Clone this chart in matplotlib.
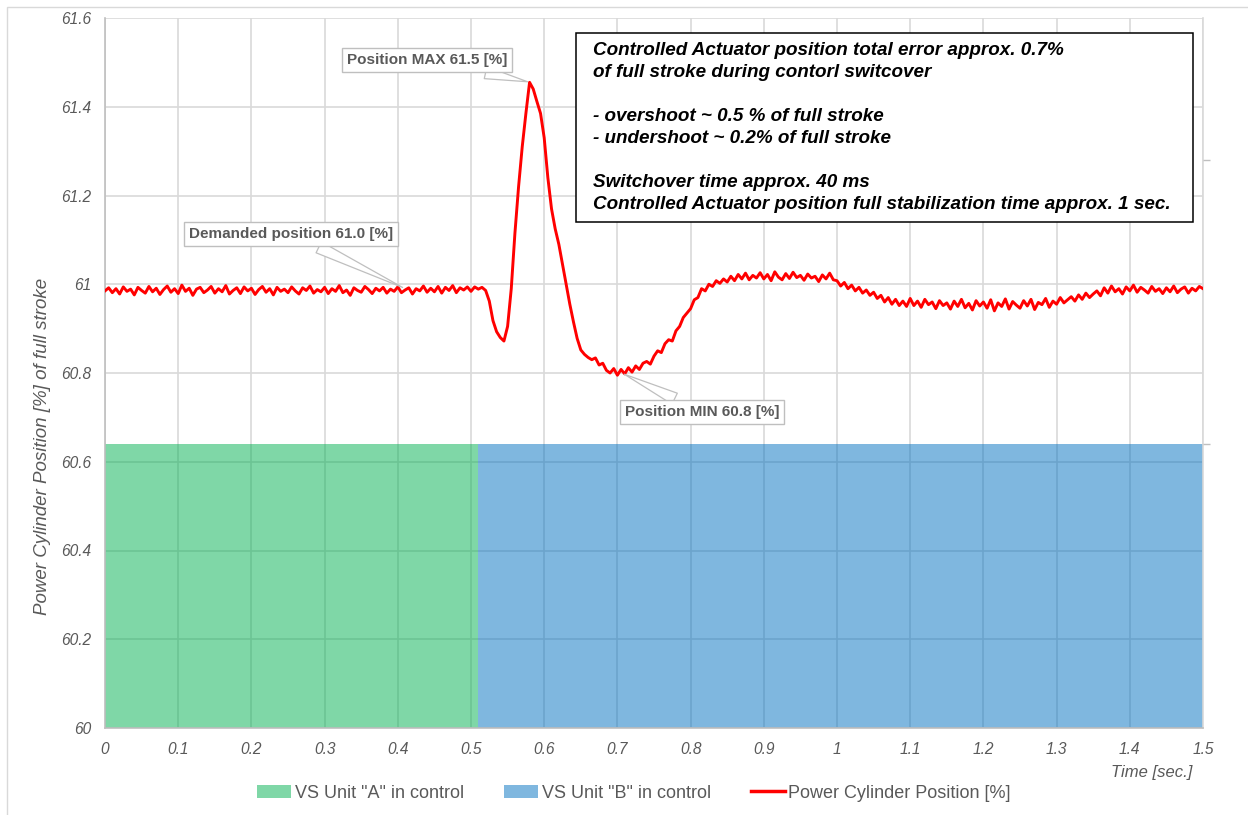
import numpy as np
import matplotlib.pyplot as plt
from matplotlib.patches import Rectangle, Patch
from matplotlib.lines import Line2D

plt.rcParams['font.family'] = ['Liberation Sans', 'DejaVu Sans']

# position samples, every 5 ms from 0 to 1.5 s
time_step = 0.005
position = [
    60.985, 60.992, 60.981, 60.990, 60.978, 60.994, 60.984, 60.989, 60.976, 60.993,
    60.986, 60.980, 60.995, 60.983, 60.991, 60.977, 60.988, 60.996, 60.982, 60.990,
    60.979, 60.998, 60.984, 60.991, 60.975, 60.989, 60.993, 60.981, 60.987, 60.995,
    60.980, 60.990, 60.983, 60.997, 60.978, 60.986, 60.992, 60.979, 60.994, 60.985,
    60.991, 60.977, 60.988, 60.995, 60.982, 60.990, 60.976, 60.993, 60.984, 60.989,
    60.981, 60.994, 60.985, 60.978, 60.992, 60.986, 60.996, 60.980, 60.988, 60.983,
    60.993, 60.979, 60.990, 60.984, 60.997, 60.981, 60.987, 60.975, 60.992, 60.986,
    60.982, 60.995, 60.988, 60.979, 60.991, 60.985, 60.993, 60.980, 60.989, 60.984,
    60.994, 60.981, 60.987, 60.992, 60.978, 60.990, 60.985, 60.996, 60.982, 60.991,
    60.983, 60.995, 60.980, 60.993, 60.986, 60.997, 60.981, 60.992, 60.987, 60.994,
    60.984, 60.994, 60.989, 60.993, 60.986, 60.962, 60.918, 60.893, 60.880, 60.872,
    60.905, 60.990, 61.115, 61.220, 61.310, 61.385, 61.455, 61.440, 61.412, 61.385,
    61.330, 61.240, 61.170, 61.125, 61.090, 61.045, 61.000, 60.955, 60.915, 60.878,
    60.852, 60.842, 60.835, 60.830, 60.834, 60.818, 60.822, 60.806, 60.800, 60.810,
    60.795, 60.808, 60.798, 60.812, 60.802, 60.816, 60.808, 60.822, 60.826, 60.820,
    60.838, 60.850, 60.846, 60.866, 60.875, 60.872, 60.895, 60.905, 60.925, 60.935,
    60.945, 60.965, 60.970, 60.990, 60.985, 61.000, 60.995, 61.008, 61.002, 61.012,
    61.005, 61.018, 61.008, 61.022, 61.012, 61.025, 61.010, 61.020, 61.014, 61.026,
    61.012, 61.022, 61.008, 61.028, 61.016, 61.010, 61.024, 61.013, 61.027, 61.015,
    61.020, 61.009, 61.023, 61.014, 61.018, 61.006, 61.021, 61.012, 61.025, 61.010,
    61.008, 60.996, 61.004, 60.990, 60.998, 60.985, 60.993, 60.980, 60.987, 60.975,
    60.982, 60.968, 60.975, 60.960, 60.970, 60.955, 60.966, 60.952, 60.962, 60.950,
    60.968, 60.952, 60.962, 60.948, 60.966, 60.954, 60.960, 60.945, 60.963, 60.952,
    60.958, 60.944, 60.962, 60.950, 60.966, 60.947, 60.957, 60.942, 60.963, 60.951,
    60.960, 60.946, 60.965, 60.940, 60.958, 60.950, 60.967, 60.944, 60.961, 60.953,
    60.946, 60.963, 60.951, 60.966, 60.943, 60.959, 60.954, 60.968, 60.948, 60.962,
    60.955, 60.970, 60.958, 60.965, 60.972, 60.962, 60.976, 60.966, 60.980, 60.970,
    60.978, 60.985, 60.974, 60.992, 60.980, 60.996, 60.983, 60.990, 60.978, 60.994,
    60.985, 60.998, 60.982, 60.993, 60.987, 60.980, 60.995, 60.984, 60.990, 60.979,
    60.992, 60.983, 60.996, 60.981, 60.989, 60.994, 60.980, 60.991, 60.985, 60.995,
    60.990,
]
time = np.arange(len(position)) * time_step

# control periods (unit, start, end) and band height
control_periods = [('VS Unit "A" in control', 0.0, 0.51),
                   ('VS Unit "B" in control', 0.51, 1.5)]
control_colors = ['#00b050', '#0070c0']
band_top = 60.64

# callouts: label, (time, value)
callouts = [
    ('Position MAX 61.5 [%]', (0.581, 61.455)),
    ('Demanded position 61.0 [%]', (0.41, 60.99)),
    ('Position MIN 60.8 [%]', (0.706, 60.80)),
]
callout_text_px = [(427, 755), (291, 581), (702, 403)]

note = ("Controlled Actuator position total error approx. 0.7%\n"
        "of full stroke during contorl switcover\n\n"
        "- overshoot ~ 0.5 % of full stroke\n"
        "- undershoot ~ 0.2% of full stroke\n\n"
        "Switchover time approx. 40 ms\n"
        "Controlled Actuator position full stabilization time approx. 1 sec.")

W, H = 1248, 815
fig = plt.figure(figsize=(W / 100, H / 100), dpi=100)
ax = fig.add_axes([105 / W, 1 - 728 / H, 1098 / W, 710 / H])

gray_txt = '#595959'
for (name, t0, t1), c in zip(control_periods, control_colors):
    ax.fill_between([t0, t1], 60, band_top, color=c, alpha=0.5, lw=0, zorder=2)
ax.plot(time, position, color='#ff0000', lw=2.1, zorder=3)

ax.set_xlim(0, 1.5)
ax.set_ylim(60, 61.6)
ax.set_xticks(np.arange(0, 1.51, 0.1))
ax.set_xticklabels(['0', '0.1', '0.2', '0.3', '0.4', '0.5', '0.6', '0.7', '0.8', '0.9',
                    '1', '1.1', '1.2', '1.3', '1.4', '1.5'])
ax.set_yticks(np.arange(60, 61.61, 0.2))
ax.set_yticklabels(['60', '60.2', '60.4', '60.6', '60.8', '61', '61.2', '61.4', '61.6'])
ax.grid(True, color='#d9d9d9', lw=1.2, zorder=0)
ax.set_axisbelow(True)
ax.tick_params(length=0, labelsize=11.2, labelcolor=gray_txt)
ax.tick_params(axis='y', pad=10)
ax.tick_params(axis='x', pad=10)
for lab in ax.get_xticklabels() + ax.get_yticklabels():
    lab.set_fontstyle('italic')
for s in ['left', 'bottom', 'right']:
    ax.spines[s].set_color('#bfbfbf')
    ax.spines[s].set_linewidth(1.2)
ax.spines['right'].set_color('#d9d9d9')
ax.spines['top'].set_visible(False)

ax.set_ylabel('Power Cylinder Position [%] of full stroke', fontsize=13.5,
              style='italic', color=gray_txt)
ax.yaxis.set_label_coords(-0.049, 0.396)
fig.text(1192 / W, 1 - 773 / H, 'Time [sec.]', ha='right', va='center',
         fontsize=12, style='italic', color=gray_txt)

# small marks on the right edge
ax2 = ax.twinx()
ax2.set_ylim(ax.get_ylim())
ax2.set_yticks([61.28, band_top])
ax2.set_yticklabels(['', ''])
ax2.tick_params(axis='y', length=5, color='#bfbfbf', width=1)
for s in ax2.spines.values():
    s.set_visible(False)

for (label, xy), pos in zip(callouts, callout_text_px):
    ax.annotate(label, xy=xy, xytext=pos, textcoords='figure pixels',
                ha='center', va='center', fontsize=11, fontweight='bold',
                color=gray_txt, zorder=6,
                bbox=dict(boxstyle='square,pad=0.3', fc='white', ec='#bfbfbf', lw=1),
                arrowprops=dict(arrowstyle='wedge,tail_width=0.8,shrink_factor=0.5',
                                fc='white', ec='#bfbfbf', lw=0.9))

fig.add_artist(Rectangle((576 / W, 1 - 222 / H), 617 / W, 189 / H,
                         transform=fig.transFigure, fc='white', ec='black',
                         lw=1.1, zorder=5))
fig.text(593 / W, 1 - 42 / H, note, ha='left', va='top', fontsize=13.6,
         fontweight='bold', style='italic', color='black', linespacing=1.39,
         zorder=6)

handles = [Patch(fc=c, alpha=0.5, ec='none') for c in control_colors]
handles.append(Line2D([0], [0], color='#ff0000', lw=2.5))
labels = [p[0] for p in control_periods] + ['Power Cylinder Position [%]']
fig.legend(handles, labels, loc='center', bbox_to_anchor=(634 / W, 1 - 793 / H),
           ncol=3, frameon=False, fontsize=13, labelcolor=gray_txt,
           handlelength=1.9, handleheight=0.75, handletextpad=0.2, columnspacing=2.2)

# outer chart frame
fig.add_artist(Rectangle((7 / W, -0.1), 2, (H - 7) / H + 0.1, transform=fig.transFigure,
                         fill=False, ec='#d9d9d9', lw=1))

fig.savefig('out.png', dpi=100)
